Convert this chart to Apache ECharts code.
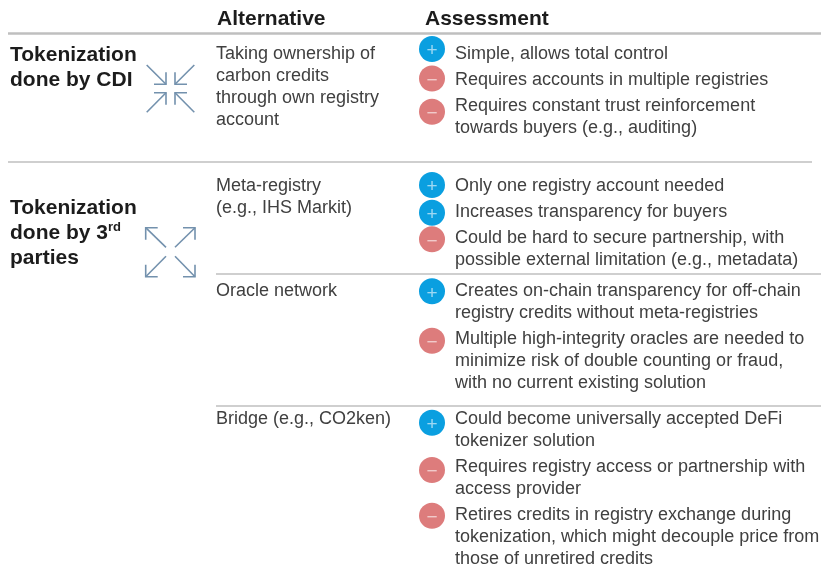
<!DOCTYPE html>
<html><head><meta charset="utf-8">
<style>html,body{margin:0;padding:0;background:#fff}#c{width:821px;height:566px}</style>
<script src="https://cdn.jsdelivr.net/npm/echarts@6/dist/echarts.min.js"></script>
</head><body><div id="c"></div>
<script>
const headers = ['Alternative', 'Assessment'];
const groupLines = ['Tokenization', 'done by CDI', 'Tokenization', 'done by 3', 'parties'];
const groupSup = 'rd';
const alternativeLines = ['Taking ownership of', 'carbon credits', 'through own registry', 'account',
  'Meta-registry', '(e.g., IHS Markit)', 'Oracle network', 'Bridge (e.g., CO2ken)'];
const assessmentLines = ['Simple, allows total control', 'Requires accounts in multiple registries',
  'Requires constant trust reinforcement', 'towards buyers (e.g., auditing)',
  'Only one registry account needed', 'Increases transparency for buyers',
  'Could be hard to secure partnership, with', 'possible external limitation (e.g., metadata)',
  'Creates on-chain transparency for off-chain', 'registry credits without meta-registries',
  'Multiple high-integrity oracles are needed to', 'minimize risk of double counting or fraud,',
  'with no current existing solution',
  'Could become universally accepted DeFi', 'tokenizer solution',
  'Requires registry access or partnership with', 'access provider',
  'Retires credits in registry exchange during', 'tokenization, which might decouple price from',
  'those of unretired credits'];
const signs = ['+','-','-','+','+','-','+','-','+','-','-'];

// Layout rows (page rows in the hidden 821x566 scale)
const headerRows = [19.5, 19.5], headerCols = [217, 425];
const groupRows = [55, 80, 208, 233, 258];
const alternativeRows = [54, 76, 98, 120, 186, 208, 291, 419];
const assessmentRows = [54, 80, 106, 128, 186, 212, 238, 260, 291, 313, 339, 361, 383, 419, 441, 467, 489, 515, 537, 559];
const signRows = [49, 78.5, 111.7, 185, 212.7, 239.3, 291.3, 340.7, 422.7, 470, 515.7];
const rules = [[8, 821, 33.5, 2.5], [8, 812, 162, 1.5], [216, 821, 273.5, 1.5], [216, 821, 405.5, 1.5]];
const inwardArrows = [[146.7,65,166,84.3,-1,-1],[194.3,65,175,84.3,1,-1],[146.7,112.3,166,92.7,-1,1],[194.3,112.3,175,92.7,1,1]];
const outwardArrows = [[166,247.3,145.7,227.7,1,1],[175,247.3,195,227.7,-1,1],[166,256.3,145.7,276.7,1,-1],[175,256.3,195,276.7,-1,-1]];

const COL_BODY = '#404040', COL_HEAD = '#1c1c1c', COL_RULE = '#bfbfbf', COL_ARROW = '#7391ad';
const FONT = '"Liberation Sans", Arial, sans-serif';
const ASSESS_X = 455, ALT_X = 216, GROUP_X = 10, SIGN_X = 432;

function textSeries(name, data, fontSize, weight, color, extra) {
  return {
    type: 'scatter', name, symbolSize: 0, silent: true, data,
    itemStyle: { opacity: 1 },
    label: Object.assign({
      show: true, position: 'right', distance: 0, opacity: 1,
      formatter: p => p.value[2],
      fontFamily: FONT, fontSize, fontWeight: weight, color
    }, extra || {})
  };
}
function arrowSeries(name, data) {
  return {
    type: 'custom', name, silent: true, data,
    renderItem(params, api) {
      const s = api.coord([api.value(0), api.value(1)]);
      const t = api.coord([api.value(2), api.value(3)]);
      const hx = api.value(4) * 12, hy = api.value(5) * 12;
      const style = { stroke: COL_ARROW, lineWidth: 1.6, fill: null };
      return { type: 'group', children: [
        { type: 'line', shape: { x1: s[0], y1: s[1], x2: t[0], y2: t[1] }, style },
        { type: 'polyline', shape: { points: [[t[0] + hx, t[1]], t, [t[0], t[1] + hy]] }, style }
      ]};
    }
  };
}

const chart = echarts.init(document.getElementById('c'), null, { renderer: 'canvas' });
chart.setOption({
  animation: false,
  backgroundColor: '#fff',
  grid: { left: 0, right: 0, top: 0, bottom: 0 },
  xAxis: { type: 'value', min: 0, max: 821, show: false },
  yAxis: { type: 'value', min: 0, max: 566, inverse: true, show: false },
  series: [
    { type: 'lines', name: 'rules', coordinateSystem: 'cartesian2d', silent: true,
      data: rules.map(r => ({ coords: [[r[0], r[2]], [r[1], r[2]]], lineStyle: { width: r[3], color: COL_RULE, opacity: 1 } })) },
    arrowSeries('inward', inwardArrows),
    arrowSeries('outward', outwardArrows),
    { type: 'scatter', name: 'signs', symbol: 'circle', symbolSize: 26, silent: true,
      data: signs.map((s, i) => ({ value: [SIGN_X, signRows[i]], sign: s,
        itemStyle: { color: s === '+' ? '#0a9fe0' : '#dd7c7c', opacity: 1 } })),
      label: { show: true, position: 'inside', offset: [0, 2], fontFamily: FONT, fontSize: 19, opacity: 1, color: 'rgba(255,255,255,0.6)',
        formatter: p => p.data.sign === '+' ? '+' : '\u2212' } },
    textSeries('headers', headers.map((h, i) => [headerCols[i], headerRows[i], h]), 21, 'bold', COL_HEAD),
    textSeries('groups', groupLines.map((g, i) => [GROUP_X, groupRows[i], g]), 21, 'bold', COL_HEAD, {
      formatter: p => p.value[2] === 'done by 3' ? `{b|done by 3}{s|${groupSup}}` : `{b|${p.value[2]}}`,
      rich: {
        b: { fontFamily: FONT, fontSize: 21, fontWeight: 'bold', color: COL_HEAD, lineHeight: 24 },
        s: { fontFamily: FONT, fontSize: 13, fontWeight: 'bold', color: COL_HEAD, verticalAlign: 'top', lineHeight: 20 }
      }
    }),
    textSeries('alternatives', alternativeLines.map((t, i) => [ALT_X, alternativeRows[i], t]), 18, 'normal', COL_BODY),
    textSeries('assessments', assessmentLines.map((t, i) => [ASSESS_X, assessmentRows[i], t]), 18, 'normal', COL_BODY)
  ]
});
</script></body></html>
